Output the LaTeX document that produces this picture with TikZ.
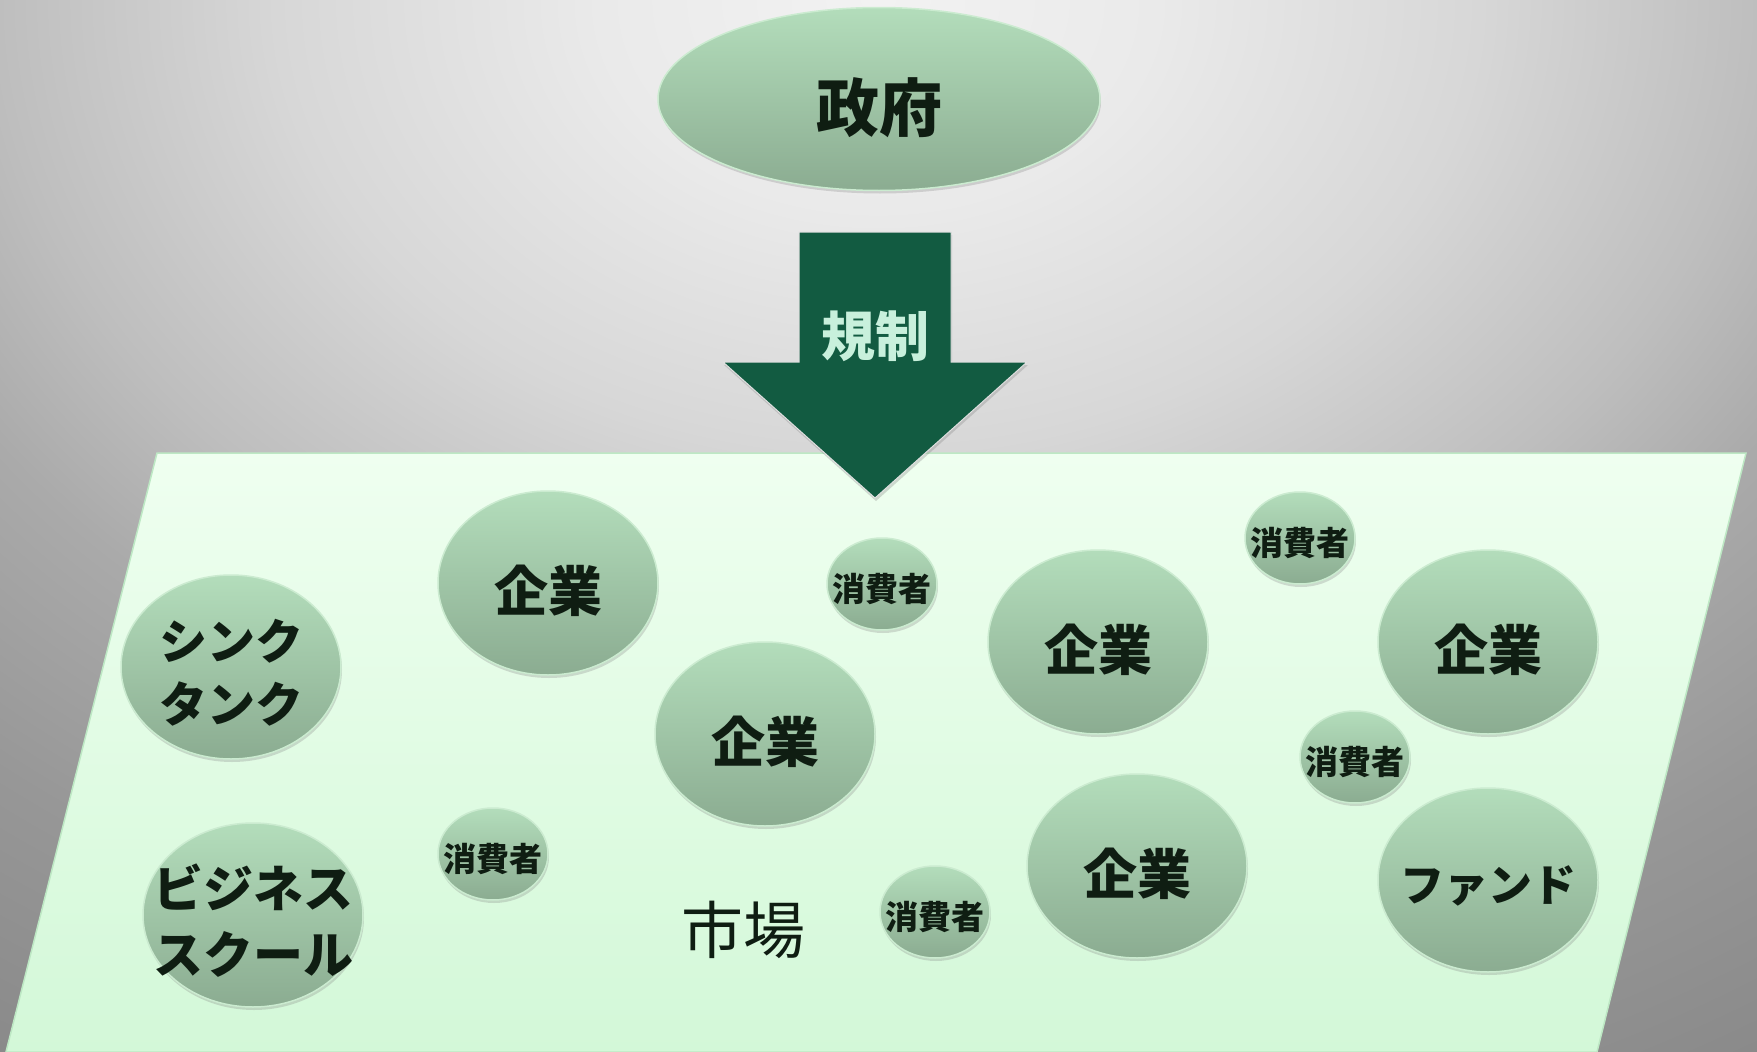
\documentclass[tikz,border=0pt]{standalone}
\usepackage{fontspec}
\newfontfamily\jp{Noto Sans CJK JP}
\usetikzlibrary{shapes.geometric,shadows}
\definecolor{bg0}{HTML}{F2F2F2}
\definecolor{bg1}{HTML}{EAEAEA}
\definecolor{bg2}{HTML}{D7D7D7}
\definecolor{bg3}{HTML}{BEBEBE}
\definecolor{bg4}{HTML}{AAAAAA}
\definecolor{bg5}{HTML}{979797}
\definecolor{bg6}{HTML}{8A8A8A}
\definecolor{mkttop}{HTML}{EFFFF0}
\definecolor{mktbot}{HTML}{D3F8D8}
\definecolor{mktedge}{HTML}{BDE8C4}
\definecolor{bubtop}{HTML}{B3DDBB}
\definecolor{bubbot}{HTML}{8BAC91}
\definecolor{bubedge}{HTML}{CBEBD0}
\definecolor{txt}{HTML}{0F1D12}
\definecolor{arrowgreen}{HTML}{125B41}
\definecolor{arrowtxt}{HTML}{C8F0DC}
% elliptical radial background: path half-width 1420 -> 25bp
\pgfdeclareradialshading{bgshade}{\pgfpoint{0bp}{0bp}}{color(0bp)=(bg0); color(4.9bp)=(bg1); color(10.6bp)=(bg2); color(15.5bp)=(bg3); color(18.7bp)=(bg4); color(23.8bp)=(bg5); color(29.1bp)=(bg6); color(50bp)=(bg6)}
\tikzset{
  bubble/.style={ellipse, draw=bubedge, line width=1.5pt, top color=bubtop, bottom color=bubbot,
    inner sep=0pt,
    drop shadow={opacity=0.28, shadow xshift=1pt, shadow yshift=-3pt}},
  bigbub/.style={bubble, minimum width=220pt, minimum height=184pt},
  smallbub/.style={bubble, minimum width=110pt, minimum height=92pt},
  lbl/.style={text=txt, align=center, inner sep=0pt},
  kanji/.style={lbl, font=\jp\bfseries\fontsize{54}{60}\selectfont, yshift=-8pt},
  smalltxt/.style={lbl, font=\jp\bfseries\fontsize{33}{40}\selectfont, yshift=-5pt},
  kana/.style={lbl, font=\jp\bfseries\fontsize{48}{63}\selectfont, yshift=-6pt},
}
\begin{document}
\begin{tikzpicture}[x=1pt,y=-1pt]
\useasboundingbox (0,0) rectangle (1757,1052);
% background
\begin{scope}
  \clip (0,0) rectangle (1757,1052);
  \fill[shading=bgshade] (-542,-1065) rectangle (2298,1065);
\end{scope}
% market plane
\draw[draw=mktedge, line width=1.5pt, top color=mkttop, bottom color=mktbot]
  (157,453) coordinate (pTL) -- (1746,453) coordinate (pTR) -- (1597,1052) coordinate (pBR) -- (6,1052) coordinate (pBL) -- cycle;
% government
\node[bubble, minimum width=442pt, minimum height=183pt] (gov) at (879,99) {};
\node[lbl, font=\jp\bfseries\fontsize{63}{70}\selectfont, yshift=-9pt] (govt) at (gov) {政府};
% regulation arrow
\coordinate (tip) at (875,498);
\draw[fill=arrowgreen, draw=black!12, line width=1pt, drop shadow={opacity=0.3, shadow xshift=1pt, shadow yshift=-3pt}]
  (799,232) -- (951,232) -- (951,362) -- (1027,362) -- (tip) -- (723,362) -- (799,362) -- cycle;
\node[kanji, yshift=8pt, text=arrowtxt] (reg) at (875,336) {規制};
% bubbles
\node[bigbub] (think) at (231,667) {};
\node[bigbub] (c1) at (548,583) {};
\node[smallbub] (s1) at (882,584) {};
\node[bigbub] (c2) at (765,734) {};
\node[bigbub] (c3) at (1098,642) {};
\node[smallbub] (s2) at (1300,538) {};
\node[bigbub] (c4) at (1488,642) {};
\node[smallbub] (s3) at (1355,757) {};
\node[bigbub] (fund) at (1488,880) {};
\node[bigbub] (c5) at (1137,866) {};
\node[smallbub] (s4) at (935,912) {};
\node[smallbub] (s5) at (493,854) {};
\node[bigbub] (biz) at (253,915) {};
% bubble labels
\node[kana] (thinkt) at (think) {シンク\\タンク};
\node[kanji] (c1t) at (c1) {企業};
\node[smalltxt] (s1t) at (s1) {消費者};
\node[kanji] (c2t) at (c2) {企業};
\node[kanji] (c3t) at (c3) {企業};
\node[smalltxt] (s2t) at (s2) {消費者};
\node[kanji] (c4t) at (c4) {企業};
\node[smalltxt] (s3t) at (s3) {消費者};
\node[kana, font=\jp\bfseries\fontsize{44}{60}\selectfont] (fundt) at (fund) {ファンド};
\node[kanji] (c5t) at (c5) {企業};
\node[smalltxt] (s4t) at (s4) {消費者};
\node[smalltxt] (s5t) at (s5) {消費者};
\node[kana, font=\jp\bfseries\fontsize{50}{66}\selectfont] (bizt) at (biz) {ビジネス\\スクール};
% market label
\node[font=\jp\fontsize{62}{70}\selectfont, text=txt] (mkt) at (743,930) {市場};
\end{tikzpicture}
\end{document}
